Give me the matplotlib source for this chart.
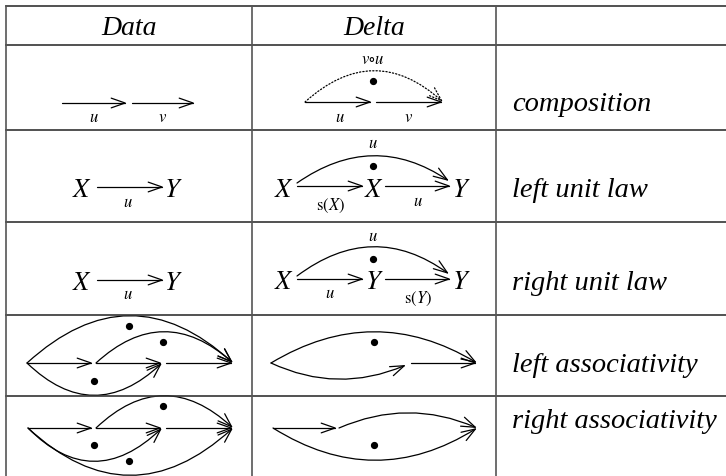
import numpy as np
import matplotlib.pyplot as plt
from matplotlib.patches import FancyArrowPatch
from matplotlib.path import Path

plt.rcParams['mathtext.fontset'] = 'stix'

W, H = 726, 477

# table text
headers = ["Data", "Delta"]
header_x = [129, 374]
laws = ["composition", "left unit law", "right unit law",
        "left associativity", "right associativity"]
law_base = [111, 197, 290, 372, 428]

# grid
row_lines = [7, 46, 131, 223, 316, 397]
col_lines = [6, 252, 496]

# arrows: (start, end, peak of curve or None, linestyle)
arrows = [
    # row 1 data
    ((62, 104), (127, 104), None, '-'),
    ((132, 104), (195, 104), None, '-'),
    # row 1 delta
    ((305, 103), (372, 103), None, '-'),
    ((376, 103), (443, 103), None, '-'),
    ((305, 103), (443, 103), (374, 72), ':'),
    # row 2 data / delta
    ((97, 188), (164, 188), None, '-'),
    ((297, 187), (364, 187), None, '-'),
    ((385, 187), (451, 187), None, '-'),
    ((297, 184), (449, 182), (373, 157), '-'),
    # row 3 data / delta
    ((97, 281), (164, 281), None, '-'),
    ((297, 280), (364, 280), None, '-'),
    ((385, 280), (451, 280), None, '-'),
    ((297, 277), (449, 275), (373, 248), '-'),
    # row 4 data
    ((27, 364), (93, 364), None, '-'),
    ((96, 364), (162, 364), None, '-'),
    ((166, 364), (233, 364), None, '-'),
    ((27, 364), (233, 364), (130, 317), '-'),
    ((96, 364), (233, 364), (164, 333), '-'),
    ((27, 364), (162, 364), (94, 396), '-'),
    # row 4 delta
    ((271, 364), (477, 364), (374, 333), '-'),
    ((271, 364), (406, 366), (338, 380), '-'),
    ((411, 364), (477, 364), None, '-'),
    # row 5 data
    ((28, 429), (93, 429), None, '-'),
    ((96, 429), (162, 429), None, '-'),
    ((166, 429), (233, 429), None, '-'),
    ((96, 429), (233, 429), (164, 397), '-'),
    ((28, 429), (162, 429), (94, 462), '-'),
    ((28, 429), (233, 429), (130, 476), '-'),
    # row 5 delta
    ((273, 429), (337, 429), None, '-'),
    ((339, 429), (477, 429), (408, 414), '-'),
    ((273, 429), (477, 429), (375, 461), '-'),
]

dots_x = [373, 373, 373, 129, 163, 94, 374, 163, 94, 129, 374]
dots_y = [82, 167, 260, 327, 343, 382, 343, 407, 446, 462, 446]

# (x, baseline, text, size)
labels = [
    (94, 122, r'$u$', 12), (163, 122, r'$v$', 12),
    (340, 122, r'$u$', 12), (409, 122, r'$v$', 12),
    (373, 64, r'$v{\circ}u$', 12),
    (82, 197, r'$X$', 19), (173, 197, r'$Y$', 19), (128, 207, r'$u$', 12),
    (284, 197, r'$X$', 19), (374, 197, r'$X$', 19), (461, 197, r'$Y$', 19),
    (373, 148, r'$u$', 12), (330, 210, r'$\mathrm{s}(X)$', 12), (418, 206, r'$u$', 12),
    (82, 290, r'$X$', 19), (173, 290, r'$Y$', 19), (128, 299, r'$u$', 12),
    (284, 289, r'$X$', 19), (374, 289, r'$Y$', 19), (461, 289, r'$Y$', 19),
    (373, 241, r'$u$', 12), (330, 298, r'$u$', 12), (418, 303, r'$\mathrm{s}(Y)$', 12),
]


def arrow(ax, p0, p1, peak, ls):
    if peak is None:
        verts = [p0, p1]
        codes = [Path.MOVETO, Path.LINETO]
    else:
        c = (2 * peak[0] - (p0[0] + p1[0]) / 2, 2 * peak[1] - (p0[1] + p1[1]) / 2)
        verts = [p0, c, p1]
        codes = [Path.MOVETO, Path.CURVE3, Path.CURVE3]
    ax.add_patch(FancyArrowPatch(path=Path(verts, codes),
                                 arrowstyle='->,head_length=10,head_width=3.5',
                                 mutation_scale=1, lw=0.9, color='black',
                                 linestyle=ls, shrinkA=0, shrinkB=0))


fig = plt.figure(figsize=(W / 100, H / 100), dpi=100)
ax = fig.add_axes([0, 0, 1, 1])
ax.set_xlim(0, W)
ax.set_ylim(H, 0)
ax.axis('off')

for y in row_lines:
    ax.plot([col_lines[0], W], [y, y], color='#333333', lw=1.2)
for x in col_lines:
    ax.plot([x, x], [row_lines[0], H], color='#555555', lw=1.2)

for x, s in zip(header_x, headers):
    ax.text(x, 35, s, ha='center', va='baseline', fontsize=20,
            family='Liberation Serif', style='italic')
for b, s in zip(law_base, laws):
    ax.text(512, b, s, ha='left', va='baseline', fontsize=20.5,
            family='Liberation Serif', style='italic')

for p0, p1, peak, ls in arrows:
    arrow(ax, p0, p1, peak, ls)

ax.plot(dots_x, dots_y, 'o', color='black', ms=4.2)

for x, b, s, fs in labels:
    ax.text(x, b, s, ha='center', va='baseline', fontsize=fs)

fig.savefig('out.png', dpi=100)
